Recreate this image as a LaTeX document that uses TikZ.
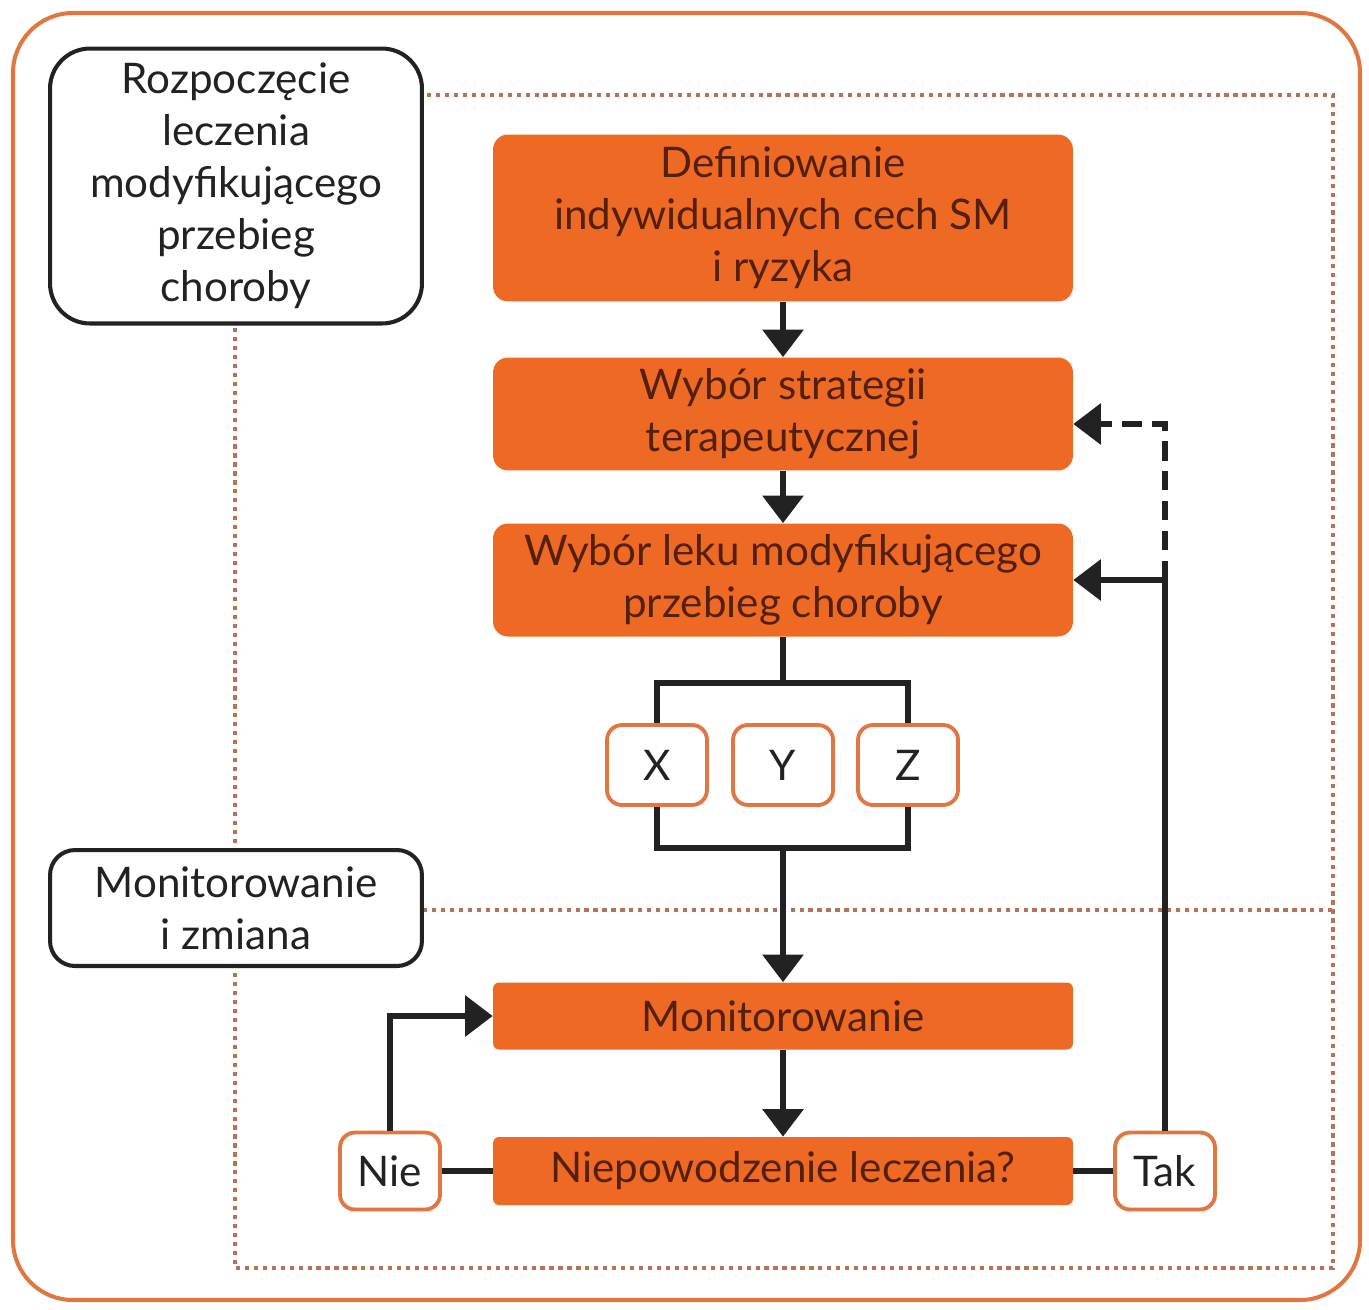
\documentclass[tikz,border=0pt]{standalone}
\usepackage{fontspec}
\setmainfont{Lato}
\usepackage{xcolor}
\usetikzlibrary{arrows.meta, positioning, backgrounds}
\definecolor{framered}{RGB}{226,118,66}
\definecolor{boxorange}{RGB}{238,106,36}
\definecolor{darkbrown}{RGB}{84,32,12}
\definecolor{dotbrown}{RGB}{186,112,84}
\definecolor{inkgray}{RGB}{34,34,34}

\begin{document}
\begin{tikzpicture}[x=0.02cm, y=-0.02cm,
    bigfont/.style={font=\fontsize{24}{29.6}\selectfont},
    stepbox/.style={bigfont, fill=boxorange, text=darkbrown, align=center,
        rounded corners=0.3cm, minimum width=11.6cm, inner sep=0pt},
    phasebox/.style={bigfont, draw=inkgray, fill=white, line width=2.3pt, text=inkgray,
        align=center, minimum width=7.44cm, inner sep=0pt},
    optbox/.style={bigfont, draw=framered, fill=white, line width=2.2pt, text=inkgray,
        rounded corners=0.3cm, minimum width=2cm, minimum height=1.6cm, inner sep=0pt},
    link/.style={draw=inkgray, line width=3.4pt},
    arrowlink/.style={link, -{Triangle[length=0.55cm, width=0.8cm]}},
    framedots/.style={dotbrown, line width=2.6pt, dash pattern=on 2.4pt off 2.7pt}]

    \useasboundingbox (0,0) rectangle (1369,1309);

    % Outer frame
    \draw[framered, line width=2.3pt, rounded corners=1.2cm] (13,13) rectangle (1360,1300);

    % Dotted phase frame
    \draw[framedots] (235,95) rectangle (1333,1268);
    \draw[framedots] (235,910) -- (1333,910);

    % Phase labels
    \node[phasebox, rounded corners=0.8cm, minimum height=5.5cm] (start) at (236,186)
        {Rozpoczęcie\\leczenia\\modyfikującego\\przebieg\\choroby};
    \node[phasebox, rounded corners=0.5cm, minimum height=2.32cm] (phase2) at (236,908)
        {Monitorowanie\\i zmiana};

    % Steps
    \node[stepbox, minimum height=3.34cm] (define) at (783,218)
        {Definiowanie\\indywidualnych cech SM\\i ryzyka};
    \node[stepbox, minimum height=2.26cm] (strat) at (783,414)
        {Wybór strategii\\terapeutycznej};
    \node[stepbox, minimum height=2.26cm] (drug) at (783,580)
        {Wybór leku modyfikującego\\przebieg choroby};
    \node[stepbox, rounded corners=0.12cm, minimum height=1.34cm] (monit) at (783,1016)
        {Monitorowanie};
    \node[stepbox, rounded corners=0.12cm, minimum height=1.36cm] (fail) at (783,1171)
        {Niepowodzenie leczenia?};

    % Options
    \node[optbox] (optx) at (657,765) {X};
    \node[optbox] (opty) at (783,765) {Y};
    \node[optbox] (optz) at (908,765) {Z};
    \node[optbox, minimum height=1.54cm] (no) at (390,1171) {Nie};
    \node[optbox, minimum height=1.54cm] (yes) at (1165,1171) {Tak};

    % Connectors
    \coordinate (forkA) at (783,683);
    \coordinate (forkB) at (783,848);
    \draw[arrowlink] (define) -- (strat);
    \draw[arrowlink] (strat) -- (drug);
    \draw[link] (drug.south) -- (forkA);
    \draw[link] (optx.north) |- (forkA) -| (optz.north);
    \draw[link] (optx.south) |- (forkB) -| (optz.south);
    \draw[arrowlink] (forkB) -- (monit.north);
    \draw[arrowlink] (monit) -- (fail);

    % Loops
    \draw[link] (no.east) -- (fail.west);
    \draw[link] (fail.east) -- (yes.west);
    \draw[arrowlink] (no.north) |- (monit.west);
    \draw[arrowlink] (yes.north) |- (drug.east);
    \draw[arrowlink, dash pattern=on 11pt off 6pt] (yes.north |- drug.east) |- ([yshift=-0.2cm]strat.east);
\end{tikzpicture}
\end{document}
